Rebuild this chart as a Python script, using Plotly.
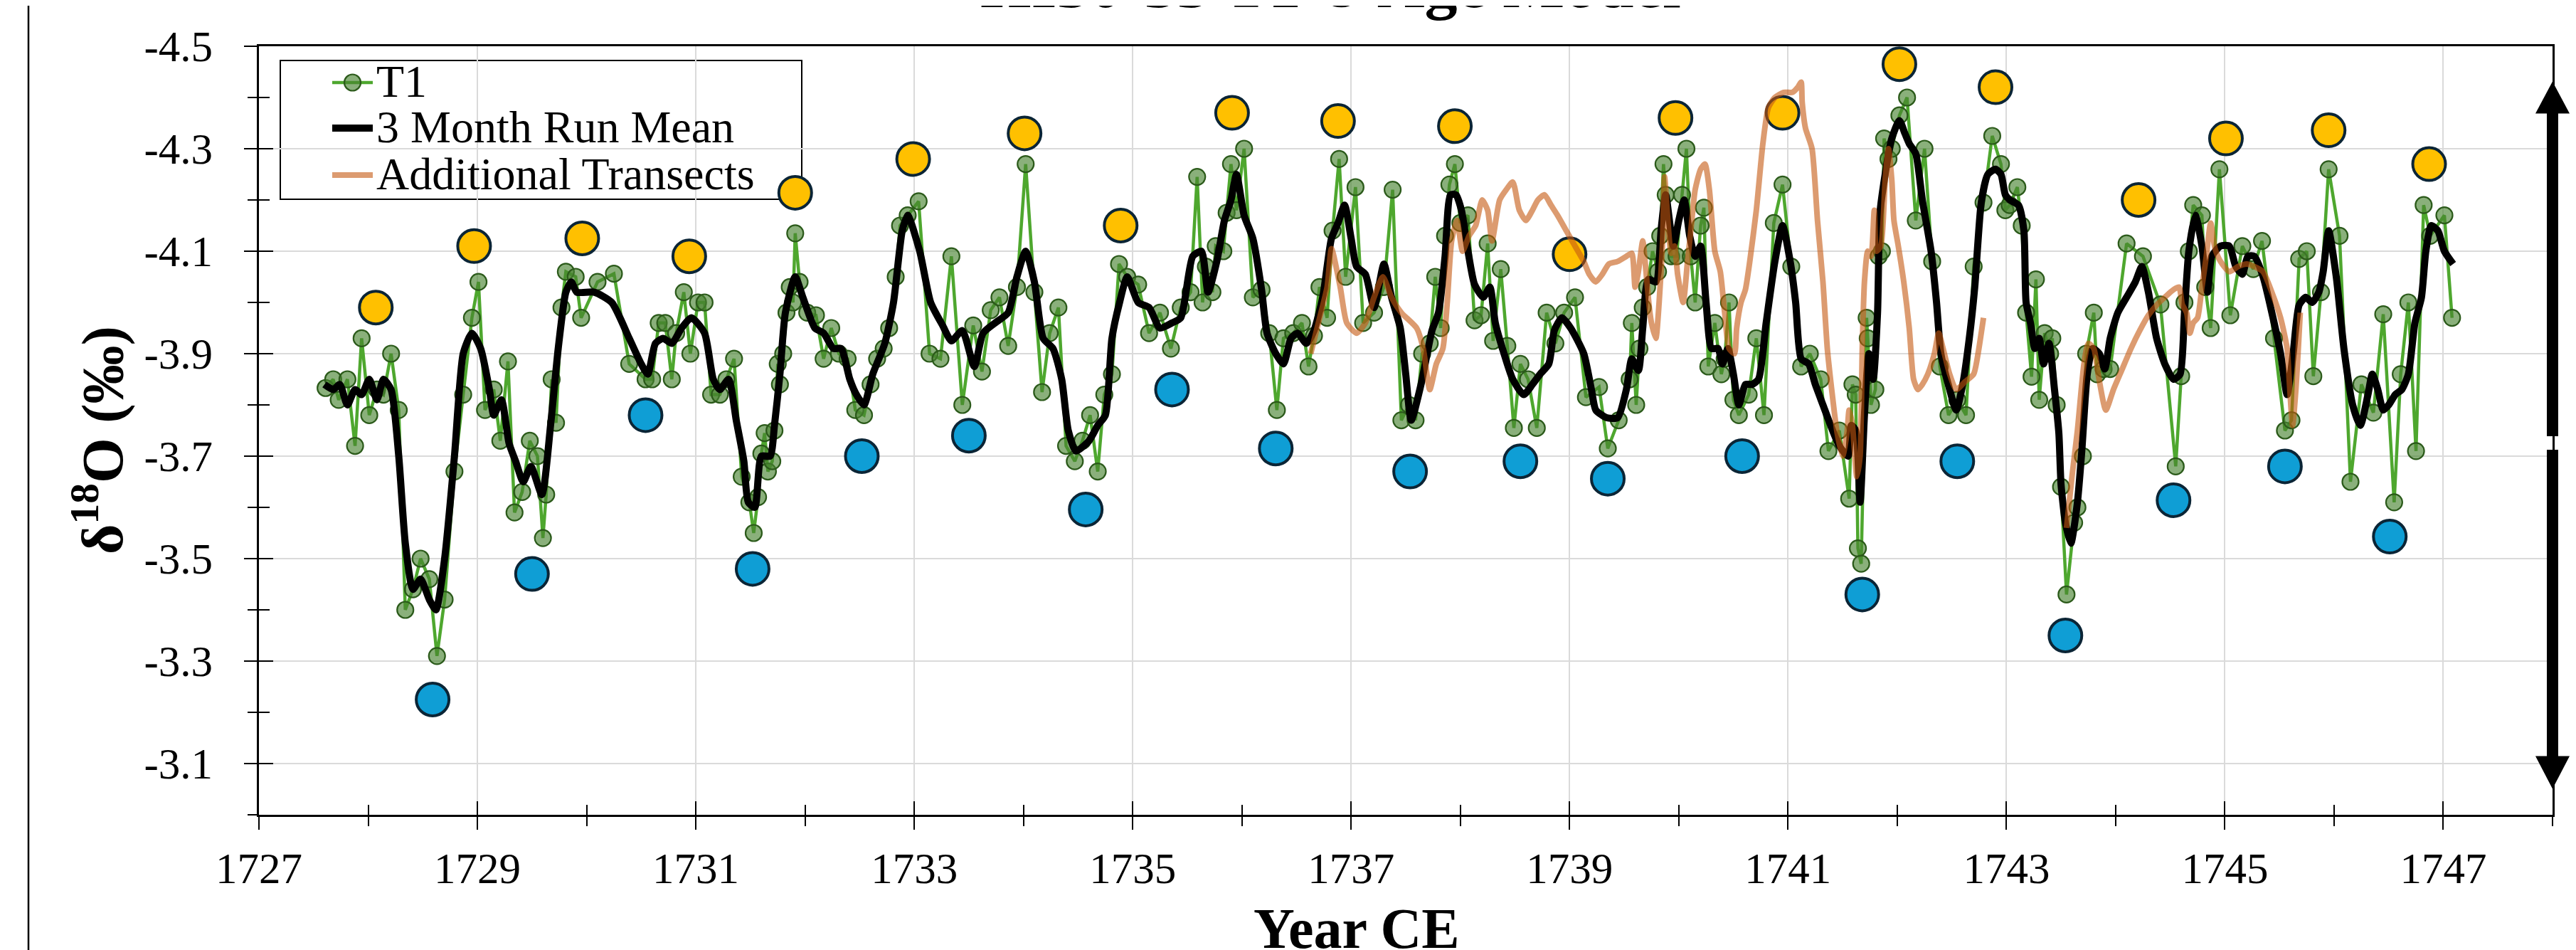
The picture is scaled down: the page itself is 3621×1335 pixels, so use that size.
import plotly.graph_objects as go

# ---------------- DATA ----------------
t1_year = [1727.61, 1727.68, 1727.73, 1727.81, 1727.88, 1727.94, 1728.01, 1728.08, 1728.14, 1728.21,
           1728.28, 1728.34, 1728.41, 1728.48, 1728.56, 1728.63, 1728.70, 1728.79, 1728.87, 1728.95,
           1729.01, 1729.07, 1729.15, 1729.21, 1729.28, 1729.34, 1729.41, 1729.48, 1729.55, 1729.60,
           1729.63, 1729.68, 1729.72, 1729.77, 1729.81, 1729.90, 1729.95, 1730.10, 1730.25, 1730.39,
           1730.54, 1730.60, 1730.66, 1730.72, 1730.78, 1730.82, 1730.89, 1730.95, 1731.02, 1731.08,
           1731.14, 1731.22, 1731.28, 1731.35, 1731.42, 1731.49, 1731.53, 1731.57, 1731.60, 1731.63,
           1731.66, 1731.70, 1731.72, 1731.75, 1731.77, 1731.80, 1731.83, 1731.86, 1731.89, 1731.91,
           1731.95, 1732.02, 1732.10, 1732.17, 1732.24, 1732.31, 1732.39, 1732.46, 1732.54, 1732.60,
           1732.66, 1732.72, 1732.77, 1732.83, 1732.87, 1732.94, 1733.04, 1733.14, 1733.24, 1733.34,
           1733.44, 1733.54, 1733.62, 1733.70, 1733.78, 1733.86, 1733.94, 1734.02, 1734.10, 1734.17,
           1734.24, 1734.32, 1734.39, 1734.47, 1734.54, 1734.61, 1734.68, 1734.74, 1734.81, 1734.875,
           1734.95, 1735.05, 1735.15, 1735.25, 1735.35, 1735.44, 1735.53, 1735.59, 1735.64, 1735.67,
           1735.73, 1735.76, 1735.83, 1735.86, 1735.90, 1735.95, 1736.02, 1736.10, 1736.18, 1736.25,
           1736.32, 1736.38, 1736.47, 1736.55, 1736.61, 1736.66, 1736.71, 1736.78, 1736.83, 1736.89,
           1736.95, 1737.04, 1737.11, 1737.21, 1737.30, 1737.38, 1737.46, 1737.53, 1737.59, 1737.65,
           1737.72, 1737.77, 1737.82, 1737.86, 1737.90, 1737.95, 1738.00, 1738.07, 1738.13, 1738.19,
           1738.25, 1738.30, 1738.37, 1738.43, 1738.49, 1738.55, 1738.62, 1738.70, 1738.79, 1738.87,
           1738.95, 1739.05, 1739.15, 1739.27, 1739.35, 1739.45, 1739.55, 1739.57, 1739.61, 1739.64,
           1739.67, 1739.71, 1739.76, 1739.81, 1739.83, 1739.86, 1739.88, 1739.93, 1739.98, 1740.03,
           1740.07, 1740.11, 1740.15, 1740.20, 1740.23, 1740.27, 1740.33, 1740.39, 1740.42, 1740.46,
           1740.50, 1740.55, 1740.64, 1740.71, 1740.78, 1740.87, 1740.95, 1741.03, 1741.12, 1741.20,
           1741.30, 1741.37, 1741.47, 1741.56, 1741.59, 1741.62, 1741.64, 1741.67, 1741.72, 1741.73,
           1741.76, 1741.80, 1741.83, 1741.86, 1741.88, 1741.92, 1741.95, 1742.02, 1742.09, 1742.17,
           1742.25, 1742.32, 1742.39, 1742.47, 1742.55, 1742.63, 1742.70, 1742.79, 1742.87, 1742.95,
           1742.99, 1743.03, 1743.10, 1743.14, 1743.18, 1743.23, 1743.27, 1743.30, 1743.35, 1743.40,
           1743.42, 1743.46, 1743.50, 1743.55, 1743.62, 1743.65, 1743.70, 1743.73, 1743.80, 1743.83,
           1743.89, 1743.95, 1744.10, 1744.25, 1744.41, 1744.55, 1744.60, 1744.63, 1744.67, 1744.71,
           1744.79, 1744.82, 1744.87, 1744.95, 1745.05, 1745.16, 1745.26, 1745.34, 1745.45, 1745.55,
           1745.61, 1745.68, 1745.75, 1745.81, 1745.88, 1745.95, 1746.05, 1746.15, 1746.25, 1746.36,
           1746.45, 1746.55, 1746.61, 1746.68, 1746.75, 1746.82, 1746.88, 1747.01, 1747.08]
t1_d18o = [-3.833, -3.85, -3.81, -3.85, -3.72, -3.93, -3.78, -3.83, -3.82, -3.90,
           -3.79, -3.40, -3.44, -3.50, -3.46, -3.31, -3.42, -3.67, -3.82, -3.97,
           -4.04, -3.79, -3.83, -3.73, -3.885, -3.59, -3.63, -3.73, -3.70, -3.54,
           -3.625, -3.85, -3.765, -3.99, -4.06, -4.05, -3.97, -4.04, -4.056, -3.88,
           -3.85, -3.85, -3.96, -3.96, -3.85, -3.94, -4.02, -3.90, -4.00, -4.00,
           -3.82, -3.82, -3.85, -3.89, -3.66, -3.61, -3.55, -3.62, -3.705, -3.745,
           -3.67, -3.69, -3.75, -3.88, -3.84, -3.90, -3.98, -4.03, -4.00, -4.135,
           -4.04, -3.98, -3.975, -3.89, -3.95, -3.90, -3.89, -3.79, -3.78, -3.84,
           -3.89, -3.91, -3.95, -4.05, -4.15, -4.17, -4.1975, -3.90, -3.89, -4.09,
           -3.80, -3.955, -3.865, -3.985, -4.01, -3.915, -4.03, -4.27, -4.02, -3.825,
           -3.94, -3.99, -3.72, -3.69, -3.73, -3.78, -3.67, -3.82, -3.86, -4.075,
           -4.05, -4.035, -3.94, -3.98, -3.91, -3.99, -4.02, -4.245, -4.00, -4.07,
           -4.02, -4.11, -4.10, -4.175, -4.27, -4.18, -4.30, -4.01, -4.025, -3.94,
           -3.79, -3.93, -3.94, -3.96, -3.875, -3.935, -4.03, -3.97, -4.14, -4.28,
           -4.05, -4.225, -3.96, -3.98, -4.03, -4.22, -3.77, -3.80, -3.77, -3.90,
           -3.92, -4.05, -3.95, -4.13, -4.23, -4.27, -4.155, -4.17, -3.965, -3.975,
           -4.115, -3.925, -4.065, -3.915, -3.755, -3.88, -3.85, -3.755, -3.98, -3.92,
           -3.98, -4.01, -3.815, -3.835, -3.715, -3.77, -3.85, -3.96, -3.80, -3.91,
           -3.99, -4.03, -4.10, -4.06, -4.13, -4.27, -4.21, -4.09, -4.09, -4.21,
           -4.30, -4.09, -4.00, -4.15, -4.185, -3.875, -3.96, -3.86, -3.89, -4.00,
           -3.81, -3.78, -3.82, -3.93, -3.78, -4.155, -4.23, -4.07, -3.875, -3.90,
           -3.85, -3.71, -3.75, -3.617, -3.84, -3.82, -3.52, -3.49, -3.97, -3.93,
           -3.80, -3.83, -4.09, -4.10, -4.32, -4.28, -4.30, -4.365, -4.40, -4.16,
           -4.30, -4.08, -3.875, -3.78, -3.81, -3.78, -4.07, -4.195, -4.325, -4.27,
           -4.18, -4.19, -4.225, -4.15, -3.98, -3.855, -4.045, -3.81, -3.94, -3.90,
           -3.93, -3.80, -3.64, -3.43, -3.57, -3.60, -3.70, -3.90, -3.98, -3.86,
           -3.87, -3.87, -4.115, -4.09, -3.996, -3.68, -3.856, -4.00, -4.10, -4.19,
           -4.17, -4.03, -3.95, -4.26, -3.975, -4.11, -4.065, -4.12, -3.93, -3.75,
           -3.77, -4.085, -4.10, -3.856, -4.02, -4.26, -4.13, -3.65, -3.84, -3.785,
           -3.977, -3.61, -3.86, -4.00, -3.71, -4.19, -4.13, -4.17, -3.97]

mean_year = [1727.60, 1727.68, 1727.74, 1727.81, 1727.88, 1727.94, 1728.01, 1728.08, 1728.14, 1728.21,
             1728.28, 1728.34, 1728.41, 1728.48, 1728.56, 1728.62, 1728.70, 1728.79, 1728.87, 1728.95,
             1729.03, 1729.11, 1729.15, 1729.22, 1729.29, 1729.35, 1729.42, 1729.49, 1729.59, 1729.67,
             1729.74, 1729.81, 1729.86, 1729.91, 1730.07, 1730.23, 1730.39, 1730.50, 1730.56, 1730.63,
             1730.70, 1730.78, 1730.87, 1730.96, 1731.08, 1731.16, 1731.22, 1731.30, 1731.37, 1731.44,
             1731.48, 1731.54, 1731.60, 1731.68, 1731.72, 1731.77, 1731.82, 1731.91, 1731.98, 1732.09,
             1732.17, 1732.26, 1732.33, 1732.41, 1732.47, 1732.54, 1732.62, 1732.73, 1732.81, 1732.89,
             1732.94, 1733.05, 1733.15, 1733.26, 1733.34, 1733.44, 1733.55, 1733.63, 1733.74, 1733.86,
             1733.94, 1734.02, 1734.10, 1734.18, 1734.27, 1734.35, 1734.41, 1734.48, 1734.60, 1734.68,
             1734.75, 1734.81, 1734.88, 1734.95, 1735.05, 1735.15, 1735.25, 1735.36, 1735.44, 1735.55,
             1735.63, 1735.69, 1735.77, 1735.84, 1735.90, 1735.95, 1736.02, 1736.10, 1736.18, 1736.23,
             1736.31, 1736.38, 1736.45, 1736.51, 1736.59, 1736.66, 1736.74, 1736.82, 1736.88, 1736.94,
             1737.00, 1737.05, 1737.13, 1737.21, 1737.30, 1737.37, 1737.45, 1737.50, 1737.55, 1737.64,
             1737.74, 1737.80, 1737.86, 1737.91, 1737.96, 1738.01, 1738.07, 1738.13, 1738.21, 1738.27,
             1738.32, 1738.40, 1738.48, 1738.58, 1738.66, 1738.73, 1738.81, 1738.86, 1738.93, 1739.01,
             1739.13, 1739.20, 1739.24, 1739.34, 1739.44, 1739.52, 1739.57, 1739.63, 1739.67, 1739.72,
             1739.79, 1739.84, 1739.88, 1739.95, 1740.00, 1740.05, 1740.10, 1740.15, 1740.20, 1740.25,
             1740.30, 1740.36, 1740.40, 1740.45, 1740.50, 1740.55, 1740.61, 1740.67, 1740.73, 1740.80,
             1740.88, 1740.95, 1741.02, 1741.07, 1741.12, 1741.19, 1741.25, 1741.32, 1741.39, 1741.47,
             1741.55, 1741.58, 1741.62, 1741.66, 1741.70, 1741.74, 1741.78, 1741.82, 1741.84, 1741.875,
             1741.95, 1742.02, 1742.07, 1742.11, 1742.17, 1742.23, 1742.31, 1742.36, 1742.40, 1742.48,
             1742.54, 1742.60, 1742.66, 1742.71, 1742.77, 1742.83, 1742.90, 1742.95, 1742.99, 1743.03,
             1743.11, 1743.16, 1743.18, 1743.22, 1743.26, 1743.30, 1743.34, 1743.39, 1743.44, 1743.48,
             1743.50, 1743.54, 1743.59, 1743.65, 1743.69, 1743.74, 1743.79, 1743.85, 1743.90, 1743.95,
             1744.02, 1744.10, 1744.18, 1744.24, 1744.30, 1744.375, 1744.45, 1744.53, 1744.59, 1744.63,
             1744.67, 1744.73, 1744.79, 1744.84, 1744.88, 1744.96, 1745.04, 1745.10, 1745.16, 1745.21,
             1745.27, 1745.35, 1745.43, 1745.51, 1745.57, 1745.625, 1745.68, 1745.74, 1745.80, 1745.86,
             1745.90, 1745.95, 1746.02, 1746.09, 1746.17, 1746.24, 1746.31, 1746.35, 1746.40, 1746.45,
             1746.50, 1746.56, 1746.62, 1746.68, 1746.74, 1746.80, 1746.84, 1746.89, 1746.95, 1747.01,
             1747.09]
mean_d18o = [-3.84, -3.83, -3.84, -3.80, -3.83, -3.82, -3.85, -3.81, -3.85, -3.83,
             -3.70, -3.53, -3.44, -3.46, -3.42, -3.40, -3.50, -3.70, -3.90, -3.94,
             -3.91, -3.83, -3.78, -3.81, -3.725, -3.69, -3.65, -3.68, -3.625, -3.76,
             -3.91, -4.02, -4.04, -4.02, -4.02, -4.00, -3.93, -3.88, -3.86, -3.92,
             -3.93, -3.92, -3.95, -3.97, -3.94, -3.85, -3.83, -3.85, -3.77, -3.69,
             -3.61, -3.60, -3.70, -3.70, -3.76, -3.86, -3.98, -4.05, -4.01, -3.95,
             -3.94, -3.91, -3.91, -3.85, -3.82, -3.80, -3.86, -3.92, -4.00, -4.14,
             -4.17, -4.10, -4.00, -3.955, -3.925, -3.945, -3.875, -3.94, -3.96, -3.98,
             -4.05, -4.10, -4.04, -3.93, -3.91, -3.85, -3.75, -3.71, -3.73, -3.76,
             -3.78, -3.93, -4.00, -4.05, -4.00, -3.99, -3.95, -3.96, -3.97, -4.09,
             -4.10, -4.02, -4.08, -4.16, -4.20, -4.25, -4.17, -4.125, -4.025, -3.94,
             -3.90, -3.88, -3.93, -3.94, -3.92, -3.945, -4.01, -4.125, -4.155, -4.19,
             -4.125, -4.07, -4.055, -3.99, -4.075, -4.01, -3.95, -3.86, -3.77, -3.84,
             -3.945, -3.98, -4.09, -4.21, -4.21, -4.18, -4.10, -4.035, -4.01, -4.03,
             -3.96, -3.90, -3.85, -3.82, -3.84, -3.86, -3.88, -3.945, -3.97, -3.95,
             -3.90, -3.83, -3.79, -3.775, -3.775, -3.83, -3.89, -3.867, -3.95, -4.045,
             -4.04, -4.146, -4.21, -4.11, -4.16, -4.20, -4.13, -4.09, -4.11, -4.00,
             -3.91, -3.91, -3.88, -3.91, -3.86, -3.80, -3.84, -3.84, -3.85, -3.96,
             -4.08, -4.15, -4.08, -4.00, -3.89, -3.88, -3.84, -3.80, -3.76, -3.72,
             -3.70, -3.76, -3.75, -3.61, -3.78, -3.90, -3.85, -3.98, -4.17, -4.23,
             -4.32, -4.355, -4.33, -4.31, -4.29, -4.20, -4.10, -4.00, -3.90, -3.83,
             -3.79, -3.84, -3.93, -4.03, -4.196, -4.25, -4.26, -4.25, -4.21, -4.20,
             -4.19, -4.14, -4.00, -3.96, -3.91, -3.93, -3.88, -3.92, -3.83, -3.745,
             -3.645, -3.57, -3.53, -3.61, -3.71, -3.86, -3.91, -3.90, -3.87, -3.93,
             -3.98, -4.01, -4.04, -4.07, -4.02, -3.93, -3.88, -3.85, -3.86, -3.98,
             -4.10, -4.17, -4.11, -4.02, -4.09, -4.11, -4.11, -4.07, -4.055, -4.09,
             -4.09, -4.05, -3.98, -3.90, -3.82, -3.90, -3.995, -4.01, -4.00, -4.02,
             -4.06, -4.14, -4.05, -3.91, -3.80, -3.76, -3.82, -3.86, -3.83, -3.79,
             -3.80, -3.82, -3.83, -3.86, -3.96, -4.01, -4.10, -4.15, -4.14, -4.10,
             -4.075]

# additional transects (two pieces, separated by None)
add_year = [1736.63, 1736.70, 1736.78, 1736.82, 1736.90, 1736.96, 1737.05, 1737.13, 1737.21, 1737.29,
            1737.37, 1737.46, 1737.60, 1737.66, 1737.72, 1737.78, 1737.84, 1737.88, 1737.92, 1737.97,
            1738.02, 1738.08, 1738.14, 1738.20, 1738.25, 1738.29, 1738.36, 1738.42, 1738.48, 1738.54,
            1738.60, 1738.66, 1738.71, 1738.77, 1738.83, 1738.89, 1738.97, 1739.05, 1739.13, 1739.18,
            1739.24, 1739.30, 1739.36, 1739.44, 1739.52, 1739.57, 1739.60, 1739.63, 1739.67, 1739.70,
            1739.73, 1739.75, 1739.79, 1739.82, 1739.85, 1739.87, 1739.90, 1739.93, 1739.96, 1739.99,
            1740.04, 1740.08, 1740.11, 1740.15, 1740.20, 1740.24, 1740.28, 1740.33, 1740.38, 1740.42,
            1740.46, 1740.51, 1740.53, 1740.57, 1740.61, 1740.65, 1740.71, 1740.77, 1740.82, 1740.88,
            1740.96, 1741.04, 1741.09, 1741.12, 1741.13, 1741.16, 1741.22, 1741.27, 1741.32, 1741.36,
            1741.40, 1741.45, 1741.50, 1741.54, 1741.56, 1741.59, 1741.63, 1741.66, 1741.68, 1741.70,
            1741.73, 1741.76, 1741.79, 1741.81, 1741.85, 1741.89, 1741.92, 1741.95, 1741.97, 1742.01,
            1742.06, 1742.11, 1742.15, 1742.19, 1742.23, 1742.28, 1742.34, 1742.38, 1742.42, 1742.48,
            1742.54, 1742.62, 1742.70, 1742.74, 1742.79, None,
            1743.55, 1743.60, 1743.65, 1743.71, 1743.75, 1743.80, 1743.84, 1743.91, 1743.98, 1744.06,
            1744.14, 1744.22, 1744.30, 1744.38, 1744.45, 1744.53, 1744.58, 1744.61, 1744.65, 1744.68,
            1744.71, 1744.75, 1744.79, 1744.83, 1744.87, 1744.91, 1744.96, 1745.04, 1745.12, 1745.20,
            1745.27, 1745.35, 1745.43, 1745.51, 1745.57, 1745.59, 1745.62, 1745.65, 1745.69]
add_d18o = [-3.90, -3.96, -4.03, -4.105, -4.03, -3.96, -3.94, -3.96, -4.01, -4.05,
            -4.01, -3.98, -3.95, -3.91, -3.83, -3.88, -3.91, -4.00, -4.12, -4.16,
            -4.10, -4.13, -4.15, -4.20, -4.18, -4.12, -4.20, -4.22, -4.235, -4.18,
            -4.16, -4.18, -4.20, -4.21, -4.19, -4.17, -4.14, -4.11, -4.08, -4.055,
            -4.04, -4.055, -4.075, -4.08, -4.09, -4.096, -4.03, -4.06, -4.12, -4.06,
            -3.99, -3.96, -3.93, -4.00, -4.11, -4.245, -4.16, -4.096, -4.11, -4.054,
            -4.00, -4.08, -4.14, -4.22, -4.26, -4.27, -4.22, -4.10, -4.06, -3.98,
            -3.91, -3.90, -3.95, -4.00, -4.025, -4.08, -4.18, -4.31, -4.38, -4.40,
            -4.41, -4.41, -4.42, -4.43, -4.39, -4.34, -4.30, -4.16, -4.04, -3.91,
            -3.83, -3.745, -3.70, -3.745, -3.79, -3.76, -3.66, -3.70, -3.91, -4.04,
            -4.10, -4.09, -4.18, -4.10, -4.11, -4.24, -4.30, -4.24, -4.16, -4.11,
            -4.04, -3.95, -3.85, -3.83, -3.84, -3.86, -3.90, -3.94, -3.91, -3.86,
            -3.83, -3.845, -3.86, -3.90, -3.97, None,
            -3.56, -3.66, -3.75, -3.88, -3.92, -3.91, -3.86, -3.79, -3.83, -3.87,
            -3.91, -3.945, -3.975, -3.996, -4.01, -4.025, -4.03, -3.996, -3.98, -3.94,
            -3.96, -3.97, -4.03, -4.09, -4.155, -4.105, -4.08, -4.06, -4.07, -4.075,
            -4.07, -4.06, -4.02, -3.97, -3.91, -3.846, -3.76, -3.83, -3.98]

peak_year = [1728.07, 1728.97, 1729.96, 1730.94, 1731.91, 1732.99, 1734.01, 1734.89, 1735.91, 1736.88,
             1737.95, 1739.00, 1739.97, 1740.95, 1742.02, 1742.90, 1744.21, 1745.01, 1745.95, 1746.87]
peak_d18o = [-3.99, -4.11, -4.125, -4.09, -4.214, -4.28, -4.33, -4.15, -4.37, -4.354,
             -4.344, -4.094, -4.36, -4.37, -4.465, -4.42, -4.20, -4.32, -4.336, -4.27]

trough_year = [1728.59, 1729.50, 1730.54, 1731.52, 1732.52, 1733.50, 1734.57, 1735.36, 1736.31, 1737.54,
               1738.55, 1739.35, 1740.58, 1741.68, 1742.55, 1743.54, 1744.53, 1745.55, 1746.51]
trough_d18o = [-3.225, -3.47, -3.78, -3.48, -3.70, -3.74, -3.596, -3.83, -3.715, -3.67,
               -3.69, -3.656, -3.70, -3.43, -3.69, -3.35, -3.614, -3.68, -3.543]

x_tickvals = [1727, 1729, 1731, 1733, 1735, 1737, 1739, 1741, 1743, 1745, 1747]
x_ticktext = ["1727", "1729", "1731", "1733", "1735", "1737", "1739", "1741", "1743", "1745", "1747"]
x_minorvals = [1728, 1730, 1732, 1734, 1736, 1738, 1740, 1742, 1744, 1746, 1748]
y_tickvals = [-4.5, -4.3, -4.1, -3.9, -3.7, -3.5, -3.3, -3.1]
y_ticktext = ["-4.5", "-4.3", "-4.1", "-3.9", "-3.7", "-3.5", "-3.3", "-3.1"]
y_minorvals = [-4.4, -4.2, -4.0, -3.8, -3.6, -3.4, -3.2, -3.0]

legend_labels = ["T1", "3 Month Run Mean", "Additional Transects"]

# ---------------- LAYOUT GEOMETRY ----------------
W, H = 3621, 1335
L, R, T, B = 356, 41, 57, 198
PW, PH = W - L - R, H - T - B
FONT = "Liberation Serif, Times New Roman, serif"

GREEN_LINE = "#4EA72E"
GREEN_FILL = "rgba(72,132,48,0.64)"
GREEN_EDGE = "#2B5A1A"
ORANGE = "rgba(196,89,17,0.6)"


def px(x):
    return (x - L) / PW


def py(y):
    return 1 - (y - T) / PH


fig = go.Figure()

fig.add_trace(go.Scatter(x=peak_year, y=peak_d18o, mode="markers", showlegend=False, hoverinfo="skip",
                         marker=dict(size=46, color="#FFC000", line=dict(color="#0B2536", width=4))))
fig.add_trace(go.Scatter(x=trough_year, y=trough_d18o, mode="markers", showlegend=False, hoverinfo="skip",
                         marker=dict(size=46, color="#0F9ED5", line=dict(color="#0B2536", width=4))))
fig.add_trace(go.Scatter(x=t1_year, y=t1_d18o, mode="lines+markers", name=legend_labels[0], showlegend=False,
                         line=dict(color=GREEN_LINE, width=4.5),
                         marker=dict(size=23, color=GREEN_FILL, line=dict(color=GREEN_EDGE, width=2.2))))
fig.add_trace(go.Scatter(x=mean_year, y=mean_d18o, mode="lines", name=legend_labels[1], showlegend=False,
                         line=dict(color="black", width=10, shape="spline", smoothing=0.6)))
fig.add_trace(go.Scatter(x=add_year, y=add_d18o, mode="lines", name=legend_labels[2], showlegend=False,
                         connectgaps=False,
                         line=dict(color=ORANGE, width=8, shape="spline", smoothing=0.6)))
# empty traces so the overlay axes (inner halves of the crossing ticks) get drawn
fig.add_trace(go.Scatter(x=[None], y=[None], xaxis="x2", yaxis="y", showlegend=False, hoverinfo="skip"))
fig.add_trace(go.Scatter(x=[None], y=[None], xaxis="x", yaxis="y2", showlegend=False, hoverinfo="skip"))

axis_line = dict(showline=True, linecolor="black", linewidth=2.5, mirror=True, zeroline=False)

fig.update_layout(
    width=W, height=H,
    margin=dict(l=L, r=R, t=T, b=B, pad=0),
    paper_bgcolor="white", plot_bgcolor="white",
    font=dict(family=FONT, color="black", size=60),
    showlegend=False,
    xaxis=dict(range=[1727, 1748], tickmode="array", tickvals=x_tickvals, ticktext=x_ticktext,
               ticks="outside", ticklen=18, tickwidth=2.3, tickcolor="black",
               tickfont=dict(family=FONT, size=61), ticklabelstandoff=2,
               showgrid=True, gridcolor="#DADADA", gridwidth=2,
               minor=dict(tickmode="array", tickvals=x_minorvals, ticks="outside", ticklen=13,
                          tickwidth=2, tickcolor="black", showgrid=False),
               **axis_line),
    xaxis2=dict(range=[1727, 1748], overlaying="x", anchor="y", side="bottom",
                tickmode="array", tickvals=x_tickvals, ticks="inside", ticklen=19, tickwidth=2.3,
                tickcolor="black", showticklabels=False, showgrid=False, showline=False, zeroline=False,
                minor=dict(tickmode="array", tickvals=x_minorvals, ticks="inside", ticklen=14,
                           tickwidth=2, tickcolor="black", showgrid=False)),
    yaxis=dict(range=[-3.0, -4.5], tickmode="array", tickvals=y_tickvals, ticktext=y_ticktext,
               ticks="outside", ticklen=18, tickwidth=2.3, tickcolor="black",
               tickfont=dict(family=FONT, size=61), ticklabelstandoff=32,
               showgrid=True, gridcolor="#DADADA", gridwidth=2,
               minor=dict(tickmode="array", tickvals=y_minorvals, ticks="outside", ticklen=13,
                          tickwidth=2, tickcolor="black", showgrid=False),
               **axis_line),
    yaxis2=dict(range=[-3.0, -4.5], overlaying="y", anchor="x", side="left",
                tickmode="array", tickvals=y_tickvals, ticks="inside", ticklen=20, tickwidth=2.3,
                tickcolor="black", showticklabels=False, showgrid=False, showline=False, zeroline=False,
                minor=dict(tickmode="array", tickvals=y_minorvals, ticks="inside", ticklen=15,
                           tickwidth=2, tickcolor="black", showgrid=False)),
)

# ---- legend (drawn by hand so its compact Excel-style spacing can be matched) ----
LEG_X0, LEG_X1, LEG_Y0, LEG_Y1 = 386, 1119, 77, 272
SAMPLE_X0, SAMPLE_X1, TEXT_X = 459, 516, 519
ROW_Y = [108, 172, 238]
TEXT_Y = [106, 171, 236]

annotations = [
    dict(text="<b>HI30-33 T1 U Age Model</b>", xref="paper", yref="paper",
         x=px(1862), y=py(24), xanchor="center", yanchor="bottom", showarrow=False,
         font=dict(family=FONT, size=92, color="black")),
    dict(text="<b>Year CE</b>", xref="paper", yref="paper",
         x=px(1899), y=py(1297), xanchor="center", yanchor="middle", showarrow=False,
         font=dict(family=FONT, size=80, color="black")),
    dict(text="<b>δ<sup>18</sup>O (‰)</b>", xref="paper", yref="paper", textangle=-90,
         x=px(130), y=py(611), xanchor="center", yanchor="middle", showarrow=False,
         font=dict(family=FONT, size=82, color="black")),
]
for lab, ty in zip(legend_labels, TEXT_Y):
    annotations.append(dict(text=lab, xref="paper", yref="paper", x=px(TEXT_X), y=py(ty),
                            xanchor="left", yanchor="middle", showarrow=False,
                            font=dict(family=FONT, size=64, color="black")))
fig.update_layout(annotations=annotations)


def poly(pts):
    return "M " + " L ".join(f"{px(a):.6f},{py(b):.6f}" for a, b in pts) + " Z"


up_arrow = [(3580, 106.5), (3604, 151.6), (3588, 151.6), (3588, 605), (3572, 605), (3572, 151.6), (3556, 151.6)]
down_arrow = [(3572, 624), (3588, 624), (3588, 1054.5), (3604, 1054.5), (3580, 1100.5), (3556, 1054.5), (3572, 1054.5)]

MR = 11.5  # legend marker radius (px)
shapes = [
    dict(type="line", xref="paper", yref="paper", x0=px(32), x1=px(32), y0=-0.3, y1=1.2,
         line=dict(color="black", width=2.5), layer="above"),
    dict(type="path", xref="paper", yref="paper", path=poly(up_arrow),
         fillcolor="black", line=dict(color="black", width=0), layer="above"),
    dict(type="path", xref="paper", yref="paper", path=poly(down_arrow),
         fillcolor="black", line=dict(color="black", width=0), layer="above"),
    # legend frame
    dict(type="rect", xref="paper", yref="paper", x0=px(LEG_X0), x1=px(LEG_X1), y0=py(LEG_Y1), y1=py(LEG_Y0),
         fillcolor="white", line=dict(color="black", width=2), layer="between"),
    # legend samples
    dict(type="line", xref="paper", yref="paper", x0=px(SAMPLE_X0), x1=px(SAMPLE_X1), y0=py(ROW_Y[0]), y1=py(ROW_Y[0]),
         line=dict(color=GREEN_LINE, width=4.5), layer="above"),
    dict(type="circle", xref="paper", yref="paper",
         x0=px((SAMPLE_X0 + SAMPLE_X1) / 2 - MR), x1=px((SAMPLE_X0 + SAMPLE_X1) / 2 + MR),
         y0=py(ROW_Y[0] + MR), y1=py(ROW_Y[0] - MR),
         fillcolor=GREEN_FILL, line=dict(color=GREEN_EDGE, width=2.2), layer="above"),
    dict(type="line", xref="paper", yref="paper", x0=px(SAMPLE_X0), x1=px(SAMPLE_X1), y0=py(ROW_Y[1]), y1=py(ROW_Y[1]),
         line=dict(color="black", width=10), layer="above"),
    dict(type="line", xref="paper", yref="paper", x0=px(SAMPLE_X0), x1=px(SAMPLE_X1), y0=py(ROW_Y[2]), y1=py(ROW_Y[2]),
         line=dict(color=ORANGE, width=8), layer="above"),
]
fig.update_layout(shapes=shapes)

fig.write_html("out.html")
